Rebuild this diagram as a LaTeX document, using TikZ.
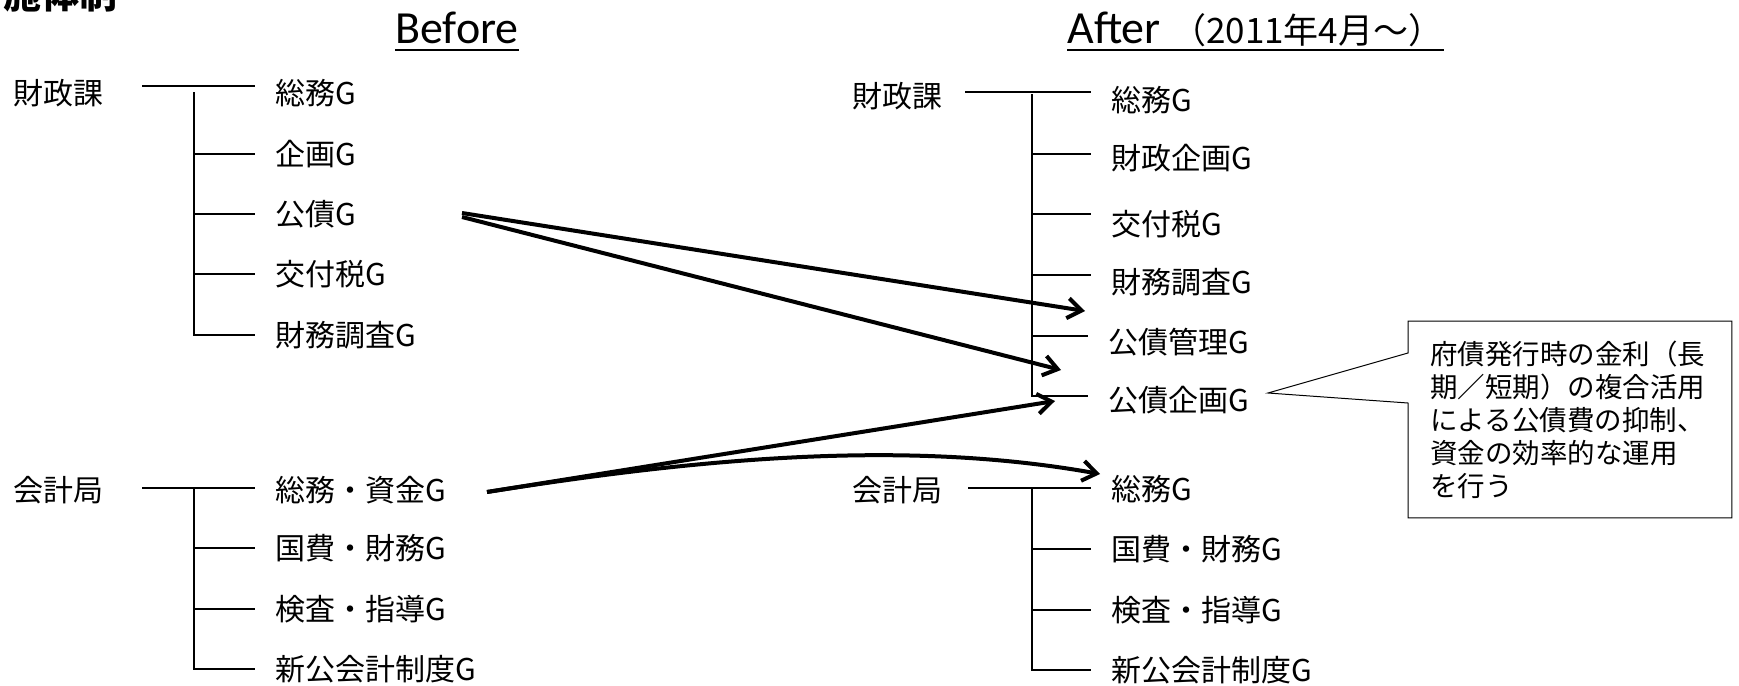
\documentclass[tikz,border=0pt]{standalone}
\usepackage{fontspec}
\setmainfont{Carlito}
\newfontfamily\jp{Noto Sans CJK JP}
\usetikzlibrary{arrows.meta,calc}

\begin{document}
\begin{tikzpicture}[x=0.5pt,y=-0.5pt,
  head/.style={font=\jp\fontsize{15}{18}\selectfont,anchor=west,inner sep=0pt},
  grp/.style={font=\jp\fontsize{15}{18}\selectfont,anchor=west,inner xsep=10pt,inner ysep=0pt},
  title/.style={font=\fontsize{23}{28}\selectfont,anchor=base west,inner sep=0pt},
  uline/.style={line width=1pt},
  tree/.style={line width=0.8pt},
  move/.style={-{Straight Barb[length=7pt,width=10pt]},line width=2pt},
  memo/.style={font=\jp\fontsize{13.75}{16.5}\selectfont,align=left,anchor=north west,
    text width=139.5pt,inner xsep=11pt,inner ysep=0pt,minimum height=98pt}]
\useasboundingbox (0,0) rectangle (1739,685);
\node[font=\jp\bfseries\fontsize{19}{22}\selectfont,anchor=base east,inner sep=0pt] (hdr) at (118,9) {施体制};
\node[title] (before) at (395,43) {Before};
\node[title] (after) at (1067,43) {After {\jp\fontsize{17.5}{20}\selectfont （2011年4月～）}};
\draw[uline] ([yshift=-3.5pt]before.base west) -- ([yshift=-3.5pt]before.base east);
\draw[uline] ([yshift=-3.5pt]after.base west) -- ([yshift=-3.5pt]after.base east);
% before
\node[head] (fz) at (13,93) {財政課};
\coordinate (fzs) at (142,86);
\coordinate (fzv) at (194,92);
\node[grp] (fz1) at (255,93) {総務G};
\node[grp] (fz2) at (255,154) {企画G};
\node[grp] (fz3) at (255,214) {公債G};
\node[grp] (fz4) at (255,274) {交付税G};
\node[grp] (fz5) at (255,335) {財務調査G};
\draw[tree] (fzs) -- (fzs -| fz1.west);
\foreach \i in {2,...,5} \draw[tree] (fzv) |- (fz\i.west);
\node[head] (kk) at (13,490) {会計局};
\coordinate (kks) at (142,488);
\coordinate (kkv) at (194,488);
\node[grp] (kk1) at (255,490) {総務・資金G};
\node[grp] (kk2) at (255,548) {国費・財務G};
\node[grp] (kk3) at (255,609) {検査・指導G};
\node[grp] (kk4) at (255,669) {新公会計制度G};
\draw[tree] (kks) -- (kks -| kk1.west);
\foreach \i in {2,3,4} \draw[tree] (kkv) |- (kk\i.west);
% after
\node[head] (nz) at (852,96) {財政課};
\coordinate (nzs) at (965,92);
\coordinate (nzv) at (1032,94);
\node[grp] (nz1) at (1091,100) {総務G};
\node[grp] (nz2) at (1091,158) {財政企画G};
\node[grp] (nz3) at (1091,224) {交付税G};
\node[grp] (nz4) at (1091,282) {財務調査G};
\node[grp] (nz5) at (1088,342) {公債管理G};
\node[grp] (nz6) at (1088,400) {公債企画G};
\draw[tree] (nzs) -- (nzs -| nz1.west);
\foreach \i/\s in {2/2,3/5,4/3.5,5/3,6/2} \draw[tree] (nzv) |- ([yshift=\s pt]nz\i.west);
\node[head] (nk) at (852,490) {会計局};
\coordinate (nks) at (968,488);
\coordinate (nkv) at (1032,488);
\node[grp] (nk1) at (1091,489) {総務G};
\node[grp] (nk2) at (1091,549) {国費・財務G};
\node[grp] (nk3) at (1091,610) {検査・指導G};
\node[grp] (nk4) at (1091,670) {新公会計制度G};
\draw[tree] (nks) -- (nks -| nk1.west);
\foreach \i in {2,3,4} \draw[tree] (nkv) |- (nk\i.west);
% moves
\coordinate (a1) at (462,213);
\coordinate (a2) at (462,217);
\coordinate (a3) at (487,492);
\coordinate (b1) at (1085,311);
\coordinate (b2) at (1061,370);
\coordinate (b3) at (1055,401);
\coordinate (b4) at (1100,474);
\draw[move] (a1) -- (b1);
\draw[move] (a2) -- (b2);
\draw[move] (a3) -- (b3);
\draw[move] (a3) .. controls (690,460) and (900,438) .. (b4);
% note
\node[memo] (note) at (1408,321) {府債発行時の金利（長\\期／短期）の複合活用\\による公債費の抑制、\\資金の効率的な運用\\を行う};
\coordinate (notetip) at (1268,393);
\draw[line width=0.5pt] (note.north west) -- (note.north east) -- (note.south east) -- (note.south west)
  -- (note.west |- 0,403) -- (notetip) -- (note.west |- 0,353) -- cycle;
\end{tikzpicture}
\end{document}
